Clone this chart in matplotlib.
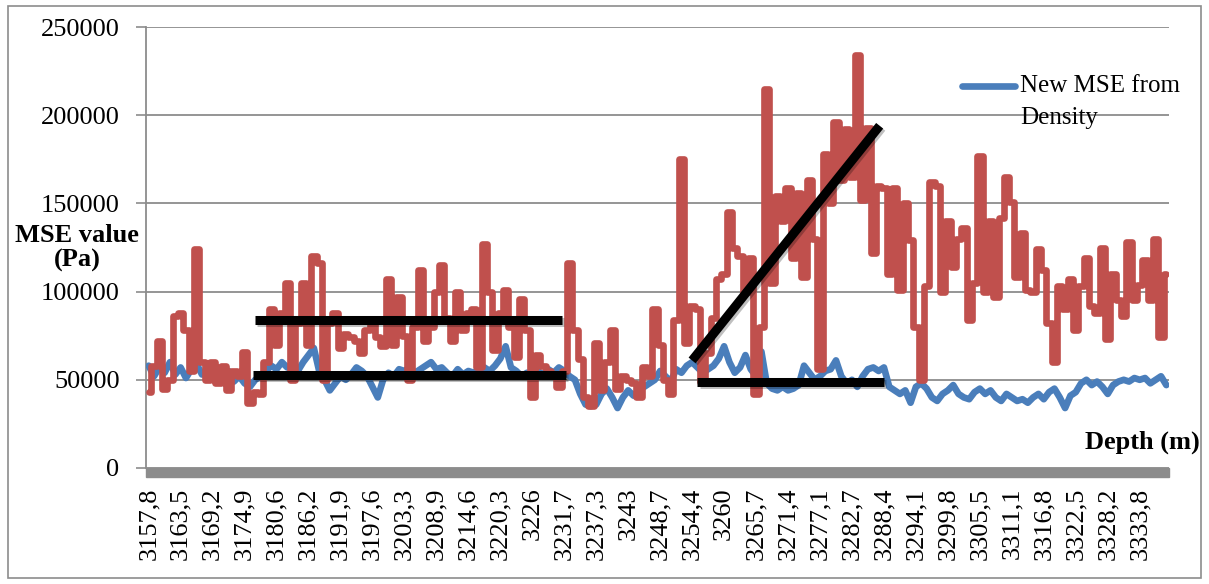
import numpy as np
import matplotlib
matplotlib.use('Agg')
import matplotlib.pyplot as plt
import matplotlib.patheffects as pe
from matplotlib.patches import Rectangle
from matplotlib.lines import Line2D

# MSE series in kPa, one value per depth sample (6 samples between labelled depths)
mse_old_k = [43, 58, 72, 45, 50, 86, 88, 78, 55, 124, 60, 50, 60, 48, 58, 44, 55, 52, 66, 37,
             43, 42, 60, 90, 70, 88, 105, 50, 82, 105, 70, 120, 116, 50, 82, 88, 68, 76, 74, 72,
             65, 78, 82, 74, 69, 107, 70, 97, 75, 50, 80, 112, 72, 80, 100, 115, 85, 72, 100, 78,
             88, 90, 57, 127, 100, 67, 88, 101, 80, 63, 96, 78, 40, 64, 58, 55, 52, 46, 55, 116,
             78, 62, 40, 35, 71, 44, 60, 78, 45, 52, 50, 48, 40, 57, 52, 90, 70, 50, 42, 84,
             175, 71, 92, 90, 49, 65, 85, 107, 110, 145, 125, 120, 100, 119, 42, 80, 215, 105, 154, 140,
             159, 119, 156, 108, 163, 130, 56, 178, 150, 196, 163, 192, 165, 234, 152, 193, 122, 160, 159, 110,
             159, 101, 150, 129, 80, 50, 103, 162, 160, 100, 140, 114, 130, 136, 84, 105, 177, 100, 140, 97,
             142, 165, 151, 108, 133, 101, 100, 124, 112, 82, 60, 103, 90, 107, 78, 103, 119, 92, 88, 125,
             73, 110, 95, 86, 128, 95, 104, 118, 95, 130, 74, 110]
mse_density_k = [58, 52, 57, 54, 60, 53, 57, 51, 56, 59, 53, 56, 50, 57, 53, 55, 49, 52, 48, 46,
                 50, 52, 55, 58, 56, 60, 57, 59, 55, 60, 64, 68, 55, 50, 44, 48, 52, 50, 53, 57,
                 55, 52, 46, 40, 50, 54, 52, 56, 55, 57, 54, 56, 58, 60, 56, 57, 54, 52, 56, 53,
                 55, 54, 56, 57, 55, 58, 62, 69, 57, 55, 52, 54, 50, 55, 53, 56, 54, 57, 55, 52,
                 50, 42, 36, 35, 36, 42, 45, 40, 34, 40, 44, 41, 44, 46, 48, 50, 55, 52, 49, 56,
                 54, 58, 60, 57, 54, 56, 58, 62, 69, 60, 54, 57, 64, 56, 52, 66, 48, 45, 44, 46,
                 44, 45, 47, 58, 54, 50, 52, 55, 56, 61, 52, 48, 50, 46, 52, 56, 57, 55, 57, 46,
                 44, 42, 44, 37, 46, 48, 45, 40, 38, 42, 44, 47, 42, 40, 39, 43, 45, 42, 44, 40,
                 38, 42, 40, 38, 39, 37, 40, 42, 39, 43, 45, 40, 34, 41, 43, 48, 50, 47, 49, 46,
                 42, 47, 49, 50, 49, 51, 50, 51, 48, 50, 52, 47]

depth_labels = ['3157,8', '3163,5', '3169,2', '3174,9', '3180,6', '3186,2', '3191,9', '3197,6',
                '3203,3', '3208,9', '3214,6', '3220,3', '3226', '3231,7', '3237,3', '3243',
                '3248,7', '3254,4', '3260', '3265,7', '3271,4', '3277,1', '3282,7', '3288,4',
                '3294,1', '3299,8', '3305,5', '3311,1', '3316,8', '3322,5', '3328,2', '3333,8']

# hand drawn trend lines: (sample index, kPa) start and end
trend_upper = [(20.0, 84), (77.5, 84)]
trend_lower = [(19.6, 52.5), (78.3, 52.5)]
trend_rise = [(102.0, 61), (137.2, 194)]
trend_flat = [(103.0, 49), (138.0, 49)]

RED = '#C0504D'
BLUE = '#4A7EBB'
GRAY = '#8c8c8c'

plt.rcParams['font.family'] = ['Liberation Serif', 'DejaVu Serif']

fig = plt.figure(figsize=(12.09, 5.84), dpi=100)
ax = fig.add_axes([146 / 1209, 1 - 468 / 584, (1169 - 146) / 1209, (468 - 27) / 584])

n = len(mse_old_k)
idx = np.arange(n)
ax.plot(idx, np.array(mse_density_k) * 1000, color=BLUE, lw=4.8, solid_joinstyle='round',
        solid_capstyle='round', zorder=3)
ax.plot(idx, np.array(mse_old_k) * 1000, color=RED, lw=4.8, drawstyle='steps-mid',
        solid_joinstyle='round', solid_capstyle='round', zorder=4)

shadow = [pe.SimpleLineShadow(offset=(1.5, -1.5), alpha=0.25), pe.Normal()]
for seg in [trend_upper, trend_lower, trend_rise, trend_flat]:
    xs = [p[0] for p in seg]
    ys = [p[1] * 1000 for p in seg]
    ax.plot(xs, ys, color='black', lw=6.5, solid_capstyle='butt', zorder=5, path_effects=shadow)

ax.set_xlim(-0.5, n - 0.5)
ax.set_ylim(0, 250000)
ax.set_yticks(np.arange(0, 250001, 50000))
ax.set_yticklabels([str(v) for v in range(0, 250001, 50000)], fontsize=19)
ax.set_xticks(np.arange(0, n, 6))
ax.set_xticklabels(depth_labels, rotation=90, fontsize=19)
ax.tick_params(axis='y', length=7, width=1.2, color=GRAY, pad=12)
ax.tick_params(axis='x', length=0, pad=14)
ax.grid(axis='y', color=GRAY, lw=1.3)
ax.set_axisbelow(True)
for side in ['top', 'right', 'bottom']:
    ax.spines[side].set_visible(False)
ax.spines['left'].set_color(GRAY)
ax.spines['left'].set_linewidth(1.3)

# thick grey category axis bar
ax.add_patch(Rectangle((0, -9 / 441), 1, 9 / 441, transform=ax.transAxes, color=GRAY,
                       clip_on=False, zorder=2))

fig.text(77 / 1209, 1 - 248 / 584, 'MSE value\n(Pa)', ha='center', va='center',
         fontsize=19, fontweight='bold', linespacing=1.05)
fig.text(1200 / 1209, 1 - 442 / 584, 'Depth (m)', ha='right', va='center',
         fontsize=19, fontweight='bold')

# legend entry
fig.add_artist(Line2D([962 / 1209, 1015 / 1209], [1 - 86 / 584] * 2, color=BLUE, lw=4.8,
                      solid_capstyle='round'))
fig.text(1020 / 1209, 1 - 86 / 584, 'New MSE from', ha='left', va='center', fontsize=18)
fig.text(1020 / 1209, 1 - 118 / 584, 'Density', ha='left', va='center', fontsize=18)

# chart frame
fig.add_artist(Rectangle((8 / 1209, 6 / 584), 1193 / 1209, 572 / 584, transform=fig.transFigure,
                         fill=False, edgecolor=GRAY, lw=1.2))

fig.savefig('out.png', dpi=100)
